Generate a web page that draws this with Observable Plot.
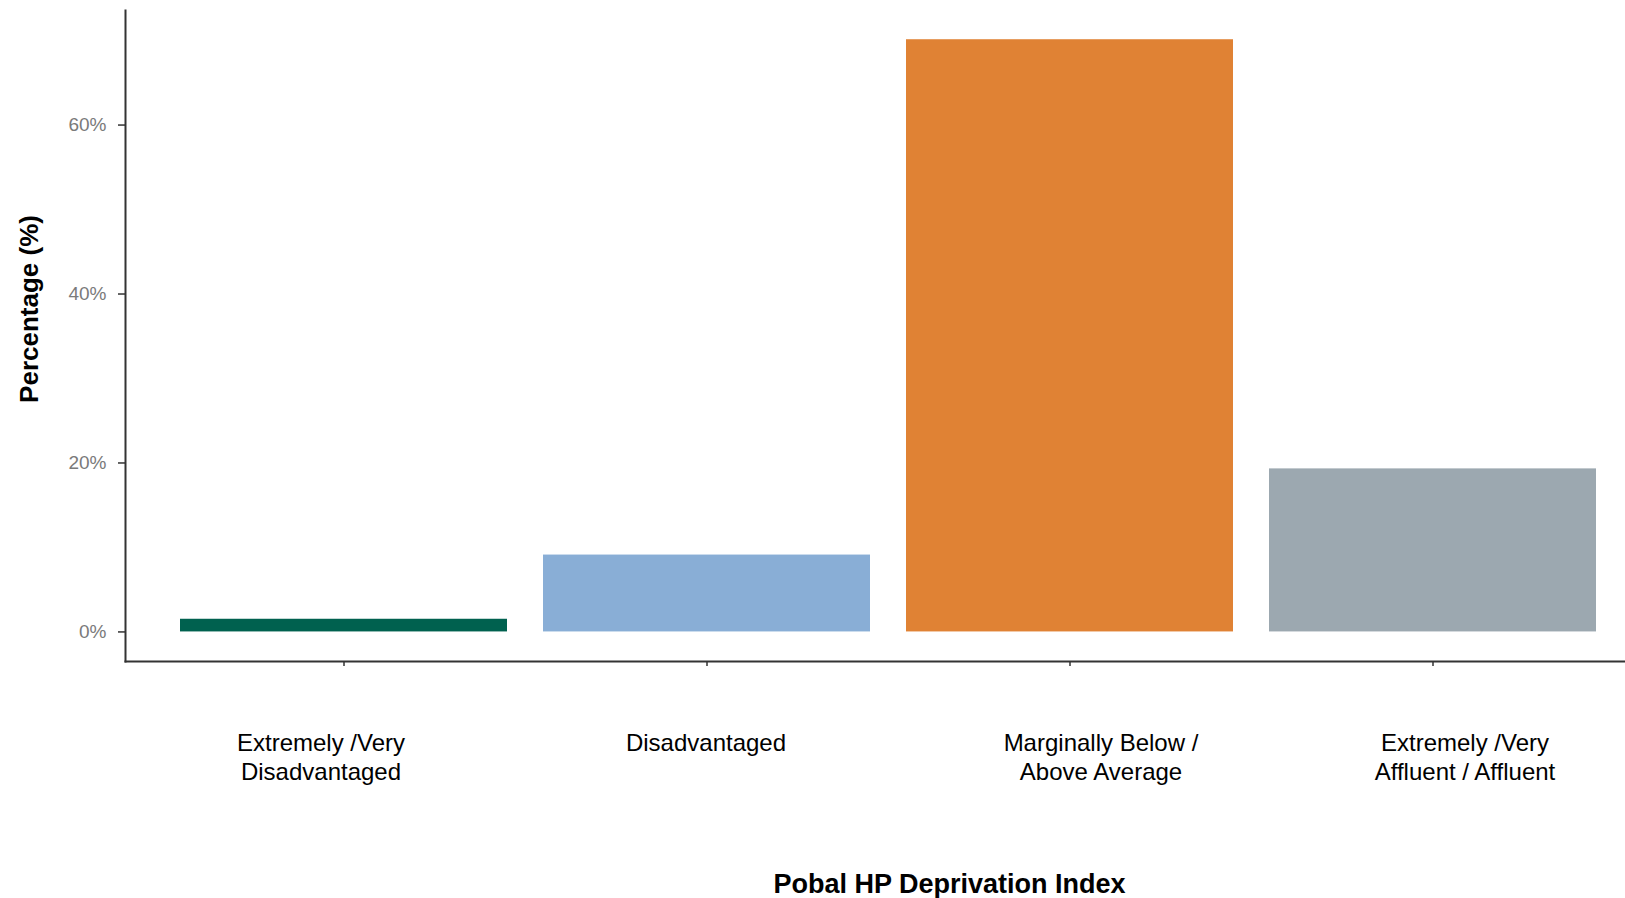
<!DOCTYPE html>
<html>
<head>
<meta charset="utf-8">
<script src="https://cdn.jsdelivr.net/npm/d3@7"></script>
<script src="https://cdn.jsdelivr.net/npm/@observablehq/plot@0.6"></script>
<style>
  html, body { margin: 0; padding: 0; background: #fff; }
  #chart { width: 1625px; height: 898px; overflow: hidden; }
</style>
</head>
<body>
<div id="chart"></div>
<script>
const categories = [
  "Extremely /Very Disadvantaged",
  "Disadvantaged",
  "Marginally Below / Above Average",
  "Extremely /Very Affluent / Affluent"
];
const tickLabels = [
  "Extremely /Very\nDisadvantaged",
  "Disadvantaged",
  "Marginally Below /\nAbove Average",
  "Extremely /Very\nAffluent / Affluent"
];
const percentages = [1.5, 9.1, 70.1, 19.3];
const barColors = ["#00614f", "#89aed6", "#e08234", "#9ca8b0"];
const yTicks = [0, 20, 40, 60];
const xTitle = "Pobal HP Deprivation Index";
const yTitle = "Percentage (%)";

const data = categories.map((c, i) => ({category: c, label: tickLabels[i], value: percentages[i], color: barColors[i]}));
const labelShift = [-23, -1, 31, 32];

const labelMarks = data.map((d, i) =>
  Plot.text([d], {x: "category", text: "label", frameAnchor: "bottom", lineAnchor: "top", dy: 70, dx: labelShift[i], fontSize: 24, lineHeight: 1.17, fill: "#000"})
);

const chart = Plot.plot({
  width: 1625,
  height: 898,
  marginLeft: 125,
  marginRight: 0,
  marginTop: 10,
  marginBottom: 237,
  style: {fontFamily: "'Liberation Sans', Arial, sans-serif", background: "#fff"},
  x: {type: "band", domain: categories, range: [179, 1596], paddingInner: 0.1, paddingOuter: 0, axis: null},
  y: {domain: [-3.5, 73.56], axis: null},
  color: {type: "identity"},
  marks: [
    Plot.barY(data, {x: "category", y: "value", fill: "color"}),
    Plot.axisY(yTicks, {tickFormat: d => d + "%", tickSize: 7, tickPadding: 12, fontSize: 19, stroke: "#333", strokeWidth: 1.5, fill: "#7a7a7a", label: null}),
    Plot.axisX(categories, {tickSize: 5, text: null, stroke: "#333", strokeWidth: 1.5, label: null}),
    Plot.frame({anchor: "left", stroke: "#333", strokeWidth: 2}),
    Plot.frame({anchor: "bottom", stroke: "#333", strokeWidth: 2}),
    ...labelMarks,
    Plot.text([xTitle], {text: d => d, frameAnchor: "bottom", lineAnchor: "bottom", dx: 74, dy: 231, fontSize: 27, fontWeight: "bold", fill: "#000"}),
    Plot.text([yTitle], {text: d => d, frameAnchor: "left", textAnchor: "middle", rotate: -90, dx: -96, dy: -27, fontSize: 26, fontWeight: "bold", fill: "#000"})
  ]
});
document.getElementById("chart").append(chart);
</script>
</body>
</html>
